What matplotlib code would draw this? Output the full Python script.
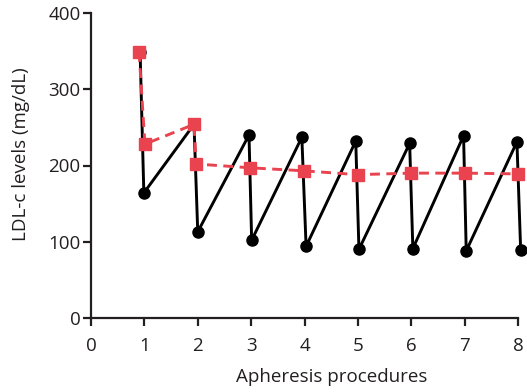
import matplotlib
matplotlib.use("Agg")
import matplotlib.pyplot as plt

plt.rcParams['font.family'] = ['Open Sans', 'DejaVu Sans']

# Black sawtooth series (individual LDL-c levels before/after each procedure)
black_x = [0.92, 0.99, 1.93, 2.00, 2.96, 3.01, 3.95, 4.03, 4.96, 5.02, 5.97, 6.03, 6.98, 7.03, 7.98, 8.05]
black_y = [349, 164, 254, 113, 240, 102, 237, 94, 232, 90, 229, 91, 239, 88, 231, 89]

# Red dashed series (time-averaged levels)
red_x = [0.90, 1.01, 1.93, 1.97, 2.98, 3.99, 5.00, 6.00, 7.00, 8.00]
red_y = [349, 228, 254, 202, 197, 193, 188, 190, 190, 189]

x_ticks = [0, 1, 2, 3, 4, 5, 6, 7, 8]
y_ticks = [0, 100, 200, 300, 400]

fig = plt.figure(figsize=(5.27, 3.92), dpi=100)
ax = fig.add_axes([91/527, 1 - 318/392, (518 - 91)/527, (318 - 13)/392])

ax.plot(black_x, black_y, color='black', lw=2.1, marker='o', ms=8,
        clip_on=False, zorder=3)
ax.plot(red_x, red_y, color='#e8434f', lw=2.1, ls=(0, (3.4, 2.2)), marker='s',
        ms=8, clip_on=False, zorder=4)

ax.set_xlim(0, 8)
ax.set_ylim(0, 400)
ax.set_xticks(x_ticks)
ax.set_yticks(y_ticks)
ax.spines['top'].set_visible(False)
ax.spines['right'].set_visible(False)
for s in ('left', 'bottom'):
    ax.spines[s].set_linewidth(1.6)
    ax.spines[s].set_color('#231f20')
ax.tick_params(direction='out', length=6, width=1.6, color='#231f20',
               labelsize=13.5, labelcolor='#231f20')
ax.tick_params(axis='x', pad=8)
ax.tick_params(axis='y', pad=1.5)
ax.set_xlabel('Apheresis procedures', fontsize=13.5, color='#231f20')
ax.set_ylabel('LDL-c levels (mg/dL)', fontsize=13.5, color='#231f20')
ax.xaxis.set_label_coords(0.564, -0.165)
ax.yaxis.set_label_coords(-0.142, 0.538)

fig.savefig('out.png', dpi=100)
